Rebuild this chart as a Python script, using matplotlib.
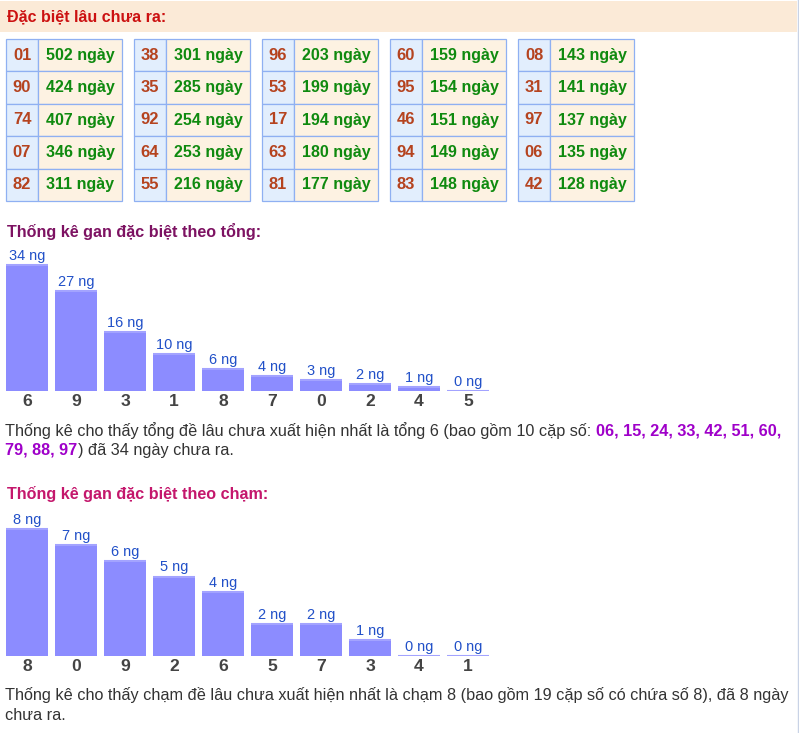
import matplotlib
matplotlib.use("Agg")
import matplotlib.pyplot as plt
from matplotlib.patches import Rectangle

plt.rcParams["font.family"] = ["Liberation Sans", "DejaVu Sans"]

W, H = 799, 733

# --- data ---
gan_so = ["01", "90", "74", "07", "82", "38", "35", "92", "64", "55",
          "96", "53", "17", "63", "81", "60", "95", "46", "94", "83",
          "08", "31", "97", "06", "42"]
gan_ngay = [502, 424, 407, 346, 311, 301, 285, 254, 253, 216,
            203, 199, 194, 180, 177, 159, 154, 151, 149, 148,
            143, 141, 137, 135, 128]

tong_labels = ["6", "9", "3", "1", "8", "7", "0", "2", "4", "5"]
tong_values = [34, 27, 16, 10, 6, 4, 3, 2, 1, 0]

cham_labels = ["8", "0", "9", "2", "6", "5", "7", "3", "4", "1"]
cham_values = [8, 7, 6, 5, 4, 2, 2, 1, 0, 0]

header_text = "Đặc biệt lâu chưa ra:"
tong_title = "Thống kê gan đặc biệt theo tổng:"
cham_title = "Thống kê gan đặc biệt theo chạm:"
tong_note_1 = "Thống kê cho thấy tổng đề lâu chưa xuất hiện nhất là tổng 6 (bao gồm 10 cặp số:"
tong_pairs_1 = "06, 15, 24, 33, 42, 51, 60,"
tong_pairs_2 = "79, 88, 97"
tong_note_2 = ") đã 34 ngày chưa ra."
cham_note_1 = "Thống kê cho thấy chạm đề lâu chưa xuất hiện nhất là chạm 8 (bao gồm 19 cặp số có chứa số 8), đã 8 ngày"
cham_note_2 = "chưa ra."

TEXT = "#333333"
BAR = "#8c8cff"
BAR_TOP = "#a3a3ff"
LABEL_BLUE = "#2150c8"
PURPLE = "#9f00c9"

fig = plt.figure(figsize=(W / 100, H / 100), dpi=100)
bg = fig.add_axes([0, 0, 1, 1])
bg.set_xlim(0, W)
bg.set_ylim(H, 0)
bg.axis("off")


def px(v):
    # pixel font size -> points
    return v * 0.72


# header band
bg.add_patch(Rectangle((0, 1), 797, 30.5, fc="#fbead7", ec="none"))
bg.plot([798, 798], [0, H], color="#c9d3e6", lw=1)
bg.text(7, 16.5, header_text, fontsize=px(16), fontweight="bold",
        color="#cc1111", va="center", ha="left")

# tables of long-absent numbers
row_h = 32.4
for k, (so, ngay) in enumerate(zip(gan_so, gan_ngay)):
    t, r = divmod(k, 5)
    x0 = 6 + 128 * t
    y0 = 39 + row_h * r
    bg.add_patch(Rectangle((x0, y0), 32, row_h, fc="#e2eefd", ec="#8fb0f2", lw=0.9))
    bg.add_patch(Rectangle((x0 + 32, y0), 84, row_h, fc="#fdf2e2", ec="#8fb0f2", lw=0.9))
    bg.text(x0 + 16, y0 + row_h / 2, so, fontsize=px(16.5), fontweight="bold",
            color="#b5431f", ha="center", va="center")
    bg.text(x0 + 32 + 42, y0 + row_h / 2, f"{ngay} ngày", fontsize=px(16),
            fontweight="bold", color="#0f8a0f", ha="center", va="center")

# section titles
bg.text(7, 231, tong_title, fontsize=px(16.1), fontweight="bold",
        color="#7d1262", va="center")
bg.text(7, 494, cham_title, fontsize=px(16.1), fontweight="bold",
        color="#c4176c", va="center")

renderer = fig.canvas.get_renderer()
note_px = 16.3
note_size = px(note_px)
space_w = 0.278 * note_px


def runs(x, y, parts):
    for s, color, weight in parts:
        t = bg.text(x, y, s, fontsize=note_size, color=color, fontweight=weight,
                    ha="left", va="center")
        x = x + t.get_window_extent(renderer).width + space_w


runs(5, 431, [(tong_note_1, TEXT, "normal"), (tong_pairs_1, PURPLE, "bold")])
t = bg.text(5, 450, tong_pairs_2, fontsize=note_size, color=PURPLE,
            fontweight="bold", va="center")
bg.text(5 + t.get_window_extent(renderer).width + 1, 450, tong_note_2,
        fontsize=note_size, color=TEXT, va="center")
bg.text(5, 695, cham_note_1, fontsize=note_size, color=TEXT, va="center")
bg.text(5, 715, cham_note_2, fontsize=note_size, color=TEXT, va="center")


def px_axes(left, top, right, bottom):
    return fig.add_axes([left / W, 1 - bottom / H, (right - left) / W, (bottom - top) / H])


def bar_chart(ax, labels, values, ymax):
    x = range(len(values))
    ax.bar(x, values, width=0.857, color=BAR, edgecolor="none")
    ax.hlines(values, [i - 0.4285 for i in x], [i + 0.4285 for i in x],
              color=BAR_TOP, lw=1.5)
    for i, v in zip(x, values):
        ax.annotate(f"{v} ng", (i, v), xytext=(0, 1.5), textcoords="offset points",
                    ha="center", va="bottom", fontsize=px(14.5), color=LABEL_BLUE)
    ax.set_xlim(-0.5, len(values) - 0.5)
    ax.set_ylim(0, ymax)
    ax.set_xticks(list(x), labels, fontsize=px(17.5), fontweight="bold", color="#444444")
    ax.tick_params(axis="x", length=0, pad=2)
    ax.set_yticks([])
    for s in ax.spines.values():
        s.set_visible(False)
    ax.patch.set_alpha(0)


ax1 = px_axes(2.5, 240, 492.5, 391)
bar_chart(ax1, tong_labels, tong_values, 151 / 3.7)

ax2 = px_axes(2.5, 505, 492.5, 656)
bar_chart(ax2, cham_labels, cham_values, 151 / 15.9)

fig.savefig("out.png", dpi=100)
